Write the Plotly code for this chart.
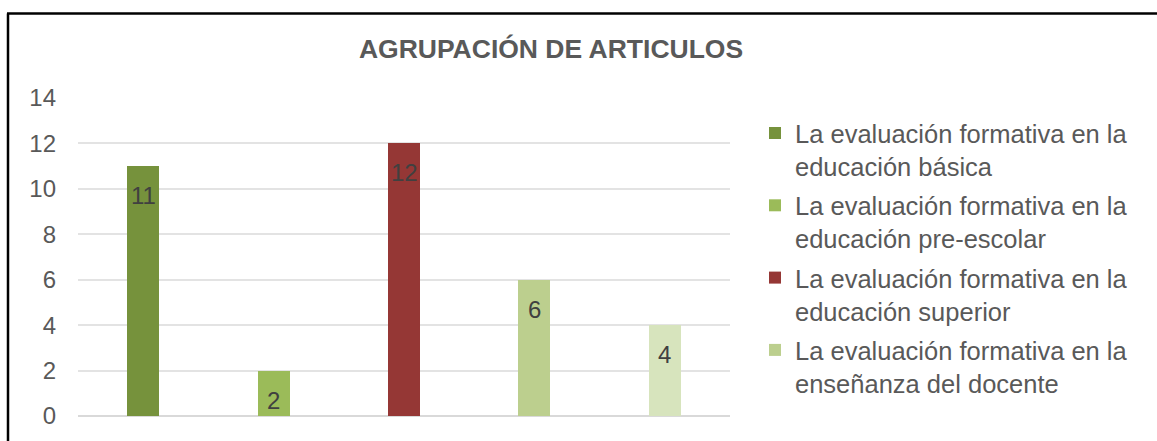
import plotly.graph_objects as go

series_names = [
    "La evaluación formativa en la<br>educación básica",
    "La evaluación formativa en la<br>educación pre-escolar",
    "La evaluación formativa en la<br>educación superior",
    "La evaluación formativa en la<br>enseñanza del docente",
    "Otros",
]
values = [11, 2, 12, 6, 4]
colors = ["#76923c", "#9bbb59", "#953735", "#bccf8e", "#d7e4bd"]
show_in_legend = [True, True, True, True, False]
y_ticks = [0, 2, 4, 6, 8, 10, 12, 14]
title_text = "AGRUPACIÓN DE ARTICULOS"

W, H = 1157, 441
L, R, T, B = 78, 427, 98, 23
pw, ph = W - L - R, H - T - B
FONT = "Arial, Liberation Sans, sans-serif"

fig = go.Figure()
for i, (name, v, c, sl) in enumerate(zip(series_names, values, colors, show_in_legend)):
    fig.add_trace(go.Bar(
        x=[i], y=[v], name=name, width=0.245,
        marker=dict(color=c, line=dict(width=0)),
        showlegend=sl, legendgroup=f"g{i}",
    ))
    fig.add_annotation(x=i, y=v, xref="x", yref="y", text=str(v),
                       showarrow=False, yanchor="top", yshift=-14,
                       font=dict(size=24, color="#404040", family=FONT))

def px_x(x):
    return (x - L) / pw

def px_y(y):
    return (H - B - y) / ph

fig.add_shape(type="line", xref="paper", yref="paper",
              x0=px_x(7), x1=px_x(W + 5), y0=px_y(13), y1=px_y(13),
              line=dict(color="black", width=2.5))
fig.add_shape(type="line", xref="paper", yref="paper",
              x0=px_x(8), x1=px_x(8), y0=px_y(13), y1=px_y(H + 5),
              line=dict(color="black", width=2.5))

fig.update_layout(
    width=W, height=H,
    margin=dict(l=L, r=R, t=T, b=B),
    paper_bgcolor="white", plot_bgcolor="white",
    title=dict(text="<b>" + title_text + "</b>", xref="container", yref="container",
               x=551 / W, xanchor="center",
               y=1 - 49 / H, yanchor="middle",
               font=dict(size=26.5, color="#595959", family=FONT)),
    xaxis=dict(range=[-0.5, 4.5], showticklabels=False, showgrid=False,
               zeroline=False, fixedrange=True),
    yaxis=dict(range=[0, 14], tickvals=y_ticks, showgrid=True,
               gridcolor="#e3e3e3", gridwidth=1.5, zeroline=True,
               zerolinecolor="#d9d9d9", zerolinewidth=1.5,
               tickfont=dict(size=24, color="#595959", family=FONT),
               ticks="", ticklabelstandoff=21),
    legend=dict(x=px_x(755), xanchor="left", y=px_y(110), yanchor="top",
                font=dict(size=25.5, color="#595959", family=FONT),
                tracegroupgap=3, traceorder="grouped", valign="top",
                bgcolor="rgba(0,0,0,0)"),
    bargap=0,
)

fig.write_html("out.html", config={"displayModeBar": False},
               post_script="document.body.style.margin='0';")
